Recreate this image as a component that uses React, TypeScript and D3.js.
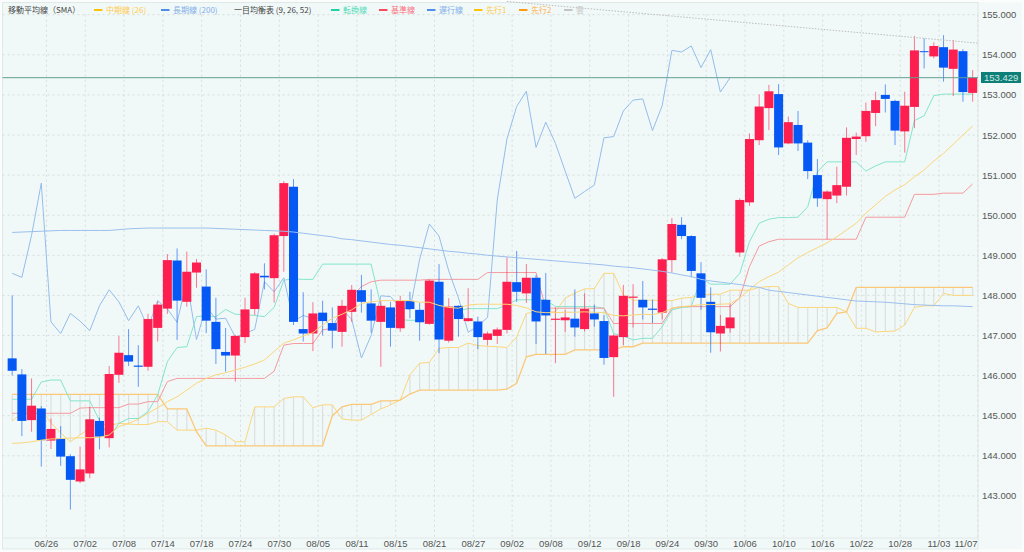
import * as React from "react";
import { scaleBand, scaleLinear, line as d3Line } from "d3";

const dates = [
  "06/23","06/24","06/25","06/26","06/27","06/30",
  "07/01","07/02","07/03","07/04","07/07","07/08","07/09","07/10","07/11","07/14","07/15","07/16","07/17","07/18","07/21","07/22","07/23","07/24","07/25","07/28","07/29","07/30","07/31",
  "08/01","08/04","08/05","08/06","08/07","08/08","08/11","08/12","08/13","08/14","08/15","08/18","08/19","08/20","08/21","08/22","08/25","08/26","08/27","08/28","08/29",
  "09/01","09/02","09/03","09/04","09/05","09/08","09/09","09/10","09/11","09/12","09/15","09/16","09/17","09/18","09/19","09/22","09/23","09/24","09/25","09/26","09/29","09/30",
  "10/01","10/02","10/03","10/06","10/07","10/08","10/09","10/10","10/13","10/14","10/15","10/16","10/17","10/20","10/21","10/22","10/23","10/24","10/27","10/28","10/29","10/30","10/31",
  "11/03","11/04","11/05","11/06","11/07",
];

const tickDates = ["06/26","07/02","07/08","07/14","07/18","07/24","07/30","08/05","08/11","08/15","08/21","08/27","09/02","09/08","09/12","09/18","09/24","09/30","10/06","10/10","10/16","10/22","10/28","11/03","11/07"];
const priceTicks = [143,144,145,146,147,148,149,150,151,152,153,154,155];

const opens = [
  146.43,146.03,144.89,145.18,144.38,144.43,143.99,143.36,143.56,144.87,
  144.44,146.02,146.51,146.25,146.22,147.19,147.67,148.87,147.84,148.57,
  148.22,147.34,146.59,146.50,146.96,147.66,148.49,148.43,149.48,150.71,
  147.16,147.05,147.57,147.31,147.09,147.59,148.13,147.80,147.34,147.70,
  147.18,147.86,147.64,147.29,148.34,146.87,147.74,147.36,147.35,146.89,
  146.99,147.14,148.33,148.05,148.44,147.89,147.39,147.38,147.42,147.16,
  147.55,147.36,146.46,146.96,147.94,147.89,147.67,147.57,148.88,149.76,
  149.48,148.55,147.84,147.05,147.18,149.07,150.32,151.87,152.67,153.02,
  151.79,152.25,151.81,151.00,150.40,150.49,150.71,151.90,151.97,152.55,
  153.00,152.85,152.09,152.70,154.09,153.96,154.19,153.65,154.09,153.05,
];
const closes = [
  146.12,144.87,145.25,144.39,144.67,143.98,143.40,143.66,144.91,144.48,
  146.04,146.57,146.35,146.22,147.41,147.77,148.88,147.87,148.59,148.82,
  147.37,146.66,146.50,146.99,147.65,148.55,148.45,149.50,150.80,147.34,
  147.05,147.55,147.36,147.12,147.74,148.14,147.84,147.37,147.74,147.19,
  147.87,147.66,147.33,148.37,146.90,147.72,147.41,147.43,146.96,147.05,
  147.15,148.34,148.09,148.44,147.35,147.50,147.42,147.45,147.20,147.66,
  147.40,146.44,147.00,147.99,147.97,147.70,147.64,148.90,149.78,149.48,
  148.61,147.94,147.08,147.24,147.45,150.38,151.90,152.71,153.09,151.69,
  152.32,151.79,151.10,150.42,150.59,150.75,151.93,151.96,152.60,152.87,
  152.90,152.11,152.73,154.11,154.07,154.22,153.68,154.13,153.07,153.43,
];
const highs = [
  148.00,146.16,145.93,145.24,144.93,144.74,144.04,144.23,145.22,144.95,
  146.24,146.99,147.16,146.76,147.54,147.85,149.03,149.17,149.09,148.91,
  148.65,147.94,147.19,147.02,147.94,148.58,148.80,149.54,150.85,150.90,
  148.08,147.83,147.87,147.70,147.89,148.26,148.51,148.15,147.89,147.84,
  147.99,148.09,147.81,148.40,148.78,147.93,147.75,148.18,147.47,147.10,
  147.20,148.95,149.11,148.78,148.51,148.56,147.70,147.64,148.15,148.05,
  147.77,147.51,147.03,148.26,148.28,148.36,147.90,148.93,149.93,149.95,
  149.50,148.83,148.20,147.51,147.80,150.42,152.04,153.01,153.25,153.27,
  152.46,152.60,151.87,151.40,150.62,151.21,152.19,152.06,152.81,153.08,
  153.26,152.88,153.08,154.47,154.41,154.31,154.49,154.37,154.14,153.62,
];
const lows = [
  146.00,144.49,144.60,143.73,144.17,143.75,142.66,143.32,143.44,144.16,
  144.21,145.82,146.24,145.72,146.12,146.85,147.54,146.89,147.72,148.19,
  147.06,146.29,146.10,145.85,146.81,147.51,148.15,147.82,148.59,147.26,
  146.85,146.61,147.00,146.68,146.72,147.34,147.57,147.07,146.22,146.72,
  147.09,147.43,146.87,147.27,146.56,146.82,146.97,147.34,146.66,146.75,
  146.79,147.05,147.84,147.81,146.79,146.54,146.31,147.09,146.97,147.10,
  147.22,146.27,145.47,146.76,147.20,147.40,147.31,147.40,148.57,149.40,
  148.45,147.64,146.57,146.60,147.07,148.96,150.23,151.75,152.12,151.50,
  151.77,151.60,150.90,150.21,149.40,150.30,150.49,151.50,151.83,152.22,
  152.56,151.75,151.56,152.17,153.66,153.91,153.33,152.97,152.83,152.83,
];

const sma26 = [
  144.31,144.32,144.35,144.39,144.42,144.43,144.44,144.45,144.45,144.46,
  144.52,144.73,144.81,144.91,145.06,145.20,145.35,145.47,145.64,145.81,
  145.93,146.02,146.07,146.14,146.21,146.29,146.39,146.60,146.81,146.89,
  146.99,147.07,147.26,147.43,147.53,147.64,147.80,147.84,147.87,147.87,
  147.87,147.87,147.83,147.83,147.75,147.70,147.68,147.76,147.78,147.78,
  147.78,147.78,147.75,147.69,147.59,147.57,147.57,147.58,147.58,147.59,
  147.58,147.57,147.50,147.49,147.51,147.53,147.52,147.57,147.68,147.72,
  147.74,147.77,147.77,147.78,147.79,147.94,148.15,148.34,148.47,148.58,
  148.76,148.94,149.07,149.19,149.31,149.46,149.63,149.80,150.05,150.26,
  150.47,150.63,150.76,150.96,151.13,151.35,151.54,151.77,152.00,152.22,
];
const sma200 = [
  149.57,149.58,149.59,149.60,149.61,149.62,149.62,149.62,149.62,149.62,
  149.62,149.64,149.66,149.67,149.68,149.68,149.68,149.68,149.68,149.68,
  149.68,149.67,149.66,149.65,149.64,149.63,149.62,149.61,149.60,149.58,
  149.55,149.52,149.49,149.46,149.41,149.39,149.36,149.33,149.30,149.27,
  149.25,149.22,149.19,149.16,149.13,149.10,149.08,149.05,149.03,149.00,
  148.98,148.96,148.94,148.92,148.90,148.88,148.86,148.84,148.82,148.80,
  148.78,148.76,148.73,148.71,148.69,148.66,148.63,148.60,148.56,148.51,
  148.47,148.40,148.36,148.33,148.30,148.27,148.23,148.20,148.13,148.10,
  148.07,148.04,148.01,147.98,147.95,147.92,147.89,147.86,147.85,147.84,
  147.83,147.81,147.79,147.77,147.76,147.75,147.74,147.74,147.73,147.72,
];
const tenkan = [
  145.41,145.41,145.41,145.84,145.89,145.89,145.37,145.37,145.37,144.88,
  144.45,144.81,144.93,144.93,145.10,145.52,146.35,146.70,146.72,147.47,
  147.49,147.47,147.65,147.53,147.52,147.50,147.47,147.70,148.38,148.41,
  148.40,148.40,148.78,148.78,148.78,148.78,148.78,148.78,147.75,147.60,
  147.39,147.38,147.38,147.38,147.38,147.45,147.62,147.67,147.67,147.67,
  147.67,147.76,147.89,147.89,147.89,147.89,147.72,147.72,147.72,147.72,
  147.72,147.68,147.05,146.99,146.89,146.93,146.93,147.22,147.64,147.70,
  147.72,148.43,148.28,148.28,148.28,148.55,149.34,149.80,149.90,149.94,
  149.94,149.95,150.21,151.08,151.33,151.33,151.33,151.33,151.10,151.23,
  151.33,151.33,151.33,152.36,152.48,152.98,153.02,153.02,153.02,153.02,
];
const kijun = [
  145.06,145.06,145.06,145.06,145.06,145.06,145.06,145.19,145.20,145.20,
  145.20,145.20,145.29,145.29,145.35,145.35,145.85,145.93,145.93,145.93,
  145.93,145.93,145.93,145.93,145.93,145.93,145.93,146.11,146.76,146.80,
  146.80,146.80,147.14,147.18,147.47,147.97,148.22,148.34,148.38,148.38,
  148.38,148.38,148.38,148.40,148.40,148.40,148.40,148.40,148.40,148.57,
  148.57,148.57,148.57,148.57,148.57,147.68,147.68,147.68,147.68,147.68,
  147.68,147.68,147.30,147.30,147.30,147.30,147.30,147.30,147.68,147.72,
  147.72,147.72,147.72,147.72,147.72,147.94,148.72,149.23,149.34,149.40,
  149.40,149.40,149.40,149.40,149.40,149.40,149.40,149.40,149.95,149.95,
  149.95,149.95,149.95,150.52,150.52,150.52,150.55,150.55,150.55,150.78,
];
const lead1 = [
  144.87,145.06,145.22,145.14,144.82,144.57,144.35,144.52,144.69,144.81,
  144.75,144.81,144.79,144.78,144.78,144.85,144.85,144.64,144.64,144.64,
  144.69,144.64,144.52,144.35,144.35,145.22,145.22,145.22,145.43,145.47,
  145.47,145.20,145.27,145.27,144.92,144.89,144.89,145.03,145.17,145.27,
  145.39,146.02,146.31,146.33,146.68,146.70,146.70,146.81,146.75,146.73,
  146.72,146.70,146.96,147.55,147.59,147.59,147.59,147.93,148.06,148.16,
  148.17,148.55,148.55,148.01,147.88,147.88,147.88,147.87,147.87,147.93,
  147.95,148.01,148.03,148.03,148.13,148.13,148.13,148.20,148.22,148.22,
  147.80,147.70,147.70,147.70,147.70,147.70,147.59,147.18,147.18,147.09,
  147.10,147.11,147.26,147.70,147.74,147.74,148.05,148.00,148.00,148.00,
];
const lead2 = [
  145.53,145.53,145.53,145.53,145.53,145.53,145.53,145.53,145.53,145.53,
  145.53,145.53,145.53,145.53,145.53,145.53,145.17,145.17,145.17,144.60,
  144.25,144.25,144.25,144.25,144.25,144.25,144.25,144.25,144.25,144.25,
  144.25,144.25,144.25,145.00,145.22,145.28,145.28,145.28,145.37,145.37,
  145.39,145.54,145.64,145.64,145.64,145.64,145.64,145.64,145.64,145.64,
  145.64,145.66,145.81,146.47,146.53,146.53,146.53,146.53,146.64,146.64,
  146.64,146.64,146.64,146.72,146.72,146.81,146.81,146.81,146.81,146.81,
  146.81,146.81,146.81,146.81,146.81,146.81,146.81,146.81,146.81,146.81,
  146.81,146.81,146.81,147.12,147.19,147.55,147.59,148.20,148.20,148.20,
  148.20,148.20,148.20,148.20,148.20,148.20,148.20,148.20,148.20,148.20,
];
// chikou is the close plotted 25 bars back
const chikou = closes.slice(25);
const trendIdx = [51, 99.6];
const trendPrice = [155.33, 154.29];
const lastPrice = 153.429;

const W = 1024;
const H = 552;
const plot = { left: 2.5, right: 978, top: 2.5, bottom: 549, axis: 538 };

const up = "#fd1f4f";
const down = "#0658f5";

const legend = [
  { label: "中期線 (26)", color: "#ffc94d", swatch: "#ffc107", sx: 94, tx: 106 },
  { label: "長期線 (200)", color: "#82aeea", swatch: "#4d8fe6", sx: 161, tx: 173 },
  { label: "転換線", color: "#53dbb8", swatch: "#1fd2a6", sx: 331, tx: 343 },
  { label: "基準線", color: "#fb6f7f", swatch: "#fb4a5c", sx: 379, tx: 391 },
  { label: "遅行線", color: "#82aeea", swatch: "#4d8fe6", sx: 427, tx: 439 },
  { label: "先行1", color: "#ffc94d", swatch: "#ffc107", sx: 474, tx: 486 },
  { label: "先行2", color: "#ffb04d", swatch: "#ff9a0d", sx: 519, tx: 531 },
  { label: "雲", color: "#c9c9c9", swatch: "#c4c4c4", sx: 564, tx: 576 },
];

const x = scaleBand<string>().domain(dates).range([7.65, 977.15]).paddingInner(0.07);
const step = x.step();
const cx = (i: number) => x(dates[0])! + x.bandwidth() / 2 + i * step;
const y = scaleLinear().domain([143, 155]).range([495.9, 14.7]);

const seriesLine = d3Line<number>().x((_, i) => cx(i)).y(d => y(d));

const latin = "'Liberation Sans', Arial, sans-serif";
const cjk = "'Noto Sans CJK JP', 'Noto Sans', sans-serif";

export default function App() {
  const trend = d3Line<number>().x(d => cx(d)).y((_, i) => y(trendPrice[i]));
  return (
    <svg width={W} height={H} style={{ position: "fixed", left: 0, top: 0, background: "#fbfdfd" }}>
      <rect x={plot.left} y={plot.top} width={1022 - plot.left} height={plot.bottom - plot.top} fill="#f2f9f8" />
      <rect x={plot.left} y={plot.top} width={plot.right - plot.left} height={plot.bottom - plot.top} fill="#f1f9f8" stroke="#dfe9e7" />
      <line x1={plot.left} x2={plot.right} y1={plot.axis} y2={plot.axis} stroke="#e2e9e8" />

      {priceTicks.map(p => (
        <line key={p} x1={plot.left} x2={plot.right} y1={y(p)} y2={y(p)} stroke="#d5dedc" strokeDasharray="2 3" />
      ))}
      {tickDates.map(d => (
        <line key={d} x1={x(d)! + step} x2={x(d)! + step} y1={14.7} y2={plot.axis} stroke="#d5dedc" strokeDasharray="2 3" />
      ))}

      {/* cloud hatch */}
      {lead1.map((v, i) => (
        <line key={i} x1={cx(i)} x2={cx(i)} y1={y(v)} y2={y(lead2[i])} stroke="#dcdfde" strokeWidth={1.2} />
      ))}

      <path d={seriesLine(lead1)!} fill="none" stroke="#fbd67a" />
      <path d={seriesLine(lead2)!} fill="none" stroke="#fbc878" strokeWidth={1.3} />
      <path d={seriesLine(tenkan)!} fill="none" stroke="#84e4cc" />
      <path d={seriesLine(kijun)!} fill="none" stroke="#f59a9f" />
      <path d={seriesLine(chikou)!} fill="none" stroke="#94bdec" />

      {dates.map((d, i) => {
        const rising = closes[i] >= opens[i];
        const color = rising ? up : down;
        const top = y(Math.max(opens[i], closes[i]));
        const bottom = y(Math.min(opens[i], closes[i]));
        return (
          <g key={d}>
            <line x1={cx(i)} x2={cx(i)} y1={y(highs[i])} y2={y(lows[i])} stroke={color} strokeOpacity={0.6} />
            <rect x={x(d)} y={top} width={x.bandwidth()} height={Math.max(bottom - top, 1)} fill={color} />
          </g>
        );
      })}

      <path d={seriesLine(sma26)!} fill="none" stroke="#fbd67a" />
      <path d={seriesLine(sma200)!} fill="none" stroke="#9bbfee" />
      <path d={trend(trendIdx)!} fill="none" stroke="#bdbdbd" strokeDasharray="1.5 1.5" />

      <line x1={plot.left} x2={plot.right} y1={y(lastPrice)} y2={y(lastPrice)} stroke="#5f9f92" />
      <rect x={981} y={72} width={40} height={11} fill="#0e7f78" />
      <text x={984} y={81} fontSize={9.5} fontFamily={latin} fill="#cfe9e4">{lastPrice.toFixed(3)}</text>

      {priceTicks.map(p => (
        <text key={p} x={982} y={y(p) + 3.5} fontSize={9.5} fontFamily={latin} fill="#555">{p.toFixed(3)}</text>
      ))}
      {tickDates.map(d => (
        <text key={d} x={Math.min(x(d)! + step, 966)} y={547} textAnchor="middle" fontSize={9.5} fontFamily={latin} fill="#555">{d}</text>
      ))}

      <text x={8} y={13} fontSize={8} fontFamily={cjk} fill="#444">移動平均線（SMA）</text>
      <text x={234} y={13} fontSize={8} fontFamily={cjk} fill="#444">一目均衡表 (9, 26, 52)</text>
      {legend.map(l => (
        <g key={l.label}>
          <rect x={l.sx} y={9} width={8.5} height={2} fill={l.swatch} />
          <text x={l.tx} y={13} fontSize={8} fontFamily={cjk} fill={l.color}>{l.label}</text>
        </g>
      ))}
    </svg>
  );
}
